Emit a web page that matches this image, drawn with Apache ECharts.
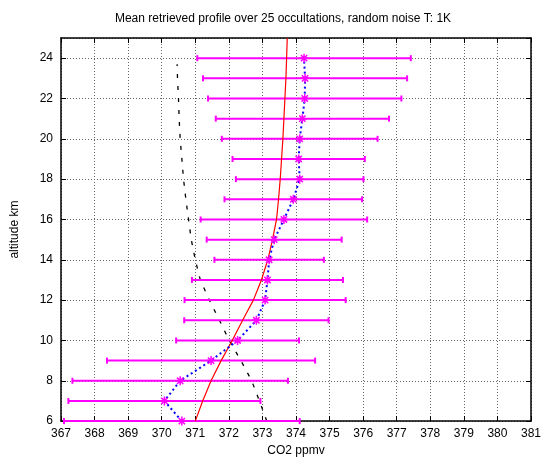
<!DOCTYPE html>
<html><head><meta charset="utf-8">
<script src="https://cdn.jsdelivr.net/npm/echarts@6/dist/echarts.min.js"></script>
<style>html,body{margin:0;padding:0;background:#fff}#c{width:544px;height:462px}</style>
</head><body><div id="c"></div>
<script>
// Altitudes (km)
var altitudes = [6,7,8,9,10,11,12,13,14,15,16,17,18,19,20,21,22,23,24];
// Mean retrieved CO2 (ppmv)
var meanRetrieved = [370.60,370.08,370.55,371.47,372.26,372.82,373.08,373.15,373.20,373.35,373.64,373.92,374.11,374.08,374.11,374.19,374.26,374.27,374.24];
// Error bar half-width (ppmv)
var errorHalf = [3.51,2.86,3.21,3.10,1.83,2.15,2.40,2.25,1.63,2.01,2.48,2.05,1.90,1.97,2.32,2.58,2.88,3.04,3.18];
// Red (true) profile
var trueAlt = [6,7,8,9,10,11,12,13,14,15,16,17,18,19,20,21,22,23,24,25];
var trueProfile = [371.00,371.22,371.47,371.77,372.10,372.41,372.73,372.97,373.16,373.30,373.42,373.48,373.53,373.57,373.61,373.64,373.67,373.70,373.72,373.74];
// Black dashed (a priori) profile
var aprioriAlt = [6,7,8,9,10,11,12,13,14,15,16,17,18,19,20,21,22,23,23.7];
var aprioriProfile = [373.13,372.91,372.68,372.36,372.01,371.72,371.42,371.15,371.00,370.88,370.80,370.72,370.65,370.60,370.55,370.52,370.50,370.47,370.46];

var titleText = 'Mean retrieved profile over 25 occultations, random noise T: 1K';
var xName = 'CO2 ppmv';
var yName = 'altitude km';

var FONT = 'Liberation Sans, Arial, sans-serif';
function pairs(xs, ys){ return xs.map(function(x,i){ return [x, ys[i]]; }); }
var errData = altitudes.map(function(a,i){ return [a, meanRetrieved[i]-errorHalf[i], meanRetrieved[i]+errorHalf[i]]; });

var chart = echarts.init(document.getElementById('c'), null, {renderer:'canvas'});
var gridLine = {show:true, lineStyle:{color:'#666', type:[1,2], width:1}};
var axisLineS = {show:true, lineStyle:{color:'#000', width:1.5}};
var tickS = {show:true, inside:true, length:5, lineStyle:{color:'#000', width:1}};
var lblS = {color:'#000', fontSize:12, fontFamily:FONT};

chart.setOption({
  animation:false,
  backgroundColor:'#fff',
  graphic:[{type:'text', x:283, y:19, style:{text:titleText, textAlign:'center', textVerticalAlign:'middle', font:'12px Liberation Sans, Arial, sans-serif', fill:'#000'}}],
  grid:{left:61, right:11, top:38, bottom:40},
  xAxis:[
    {type:'value', min:367, max:381, interval:1, position:'bottom',
     name:xName, nameLocation:'middle', nameGap:22, nameTextStyle:{fontSize:12, fontFamily:FONT, color:'#000'},
     axisLine:axisLineS, axisTick:tickS, axisLabel:Object.assign({margin:7}, lblS), splitLine:gridLine},
    {type:'value', min:367, max:381, interval:1, position:'top',
     axisLine:axisLineS, axisTick:tickS, axisLabel:{show:false}, splitLine:{show:false}}
  ],
  yAxis:[
    {type:'value', min:6, max:25, interval:2, position:'left',
     name:yName, nameLocation:'middle', nameGap:40, nameRotate:90, nameTextStyle:{fontSize:12, fontFamily:FONT, color:'#000'},
     axisLine:axisLineS, axisTick:tickS, axisLabel:Object.assign({margin:8, showMaxLabel:false}, lblS), splitLine:gridLine},
    {type:'value', min:6, max:25, interval:2, position:'right',
     axisLine:axisLineS, axisTick:tickS, axisLabel:{show:false}, splitLine:{show:false}}
  ],
  series:[
    {type:'custom', xAxisIndex:0, yAxisIndex:0, data:errData, encode:{x:[1,2], y:0}, z:3,
     renderItem:function(params, api){
       var y = api.value(0), lo = api.value(1), hi = api.value(2);
       var p1 = api.coord([lo, y]), p2 = api.coord([hi, y]);
       var h = 3, st = {stroke:'#ff00ff', lineWidth:2};
       return {type:'group', children:[
         {type:'line', shape:{x1:p1[0], y1:p1[1], x2:p2[0], y2:p2[1]}, style:st},
         {type:'line', shape:{x1:p1[0], y1:p1[1]-h, x2:p1[0], y2:p1[1]+h}, style:st},
         {type:'line', shape:{x1:p2[0], y1:p2[1]-h, x2:p2[0], y2:p2[1]+h}, style:st}
       ]};
     }},
    {type:'line', data:pairs(aprioriProfile, aprioriAlt), showSymbol:false, symbol:'none', z:2,
     lineStyle:{color:'#000', width:1.3, type:[4,8]}},
    {type:'line', data:pairs(trueProfile, trueAlt), smooth:false, symbol:'none', z:4,
     lineStyle:{color:'#ff0000', width:1.2}},
    {type:'line', data:pairs(meanRetrieved, altitudes), z:5,
     symbol:'path://M0,-10L0,10M-10,0L10,0M-7,-7L7,7M-7,7L7,-7', symbolSize:9,
     itemStyle:{color:'#ff00ff', borderColor:'#ff00ff', borderWidth:1.5},
     lineStyle:{color:'#0000ff', width:2, type:[2,3]}}
  ]
});
</script></body></html>
